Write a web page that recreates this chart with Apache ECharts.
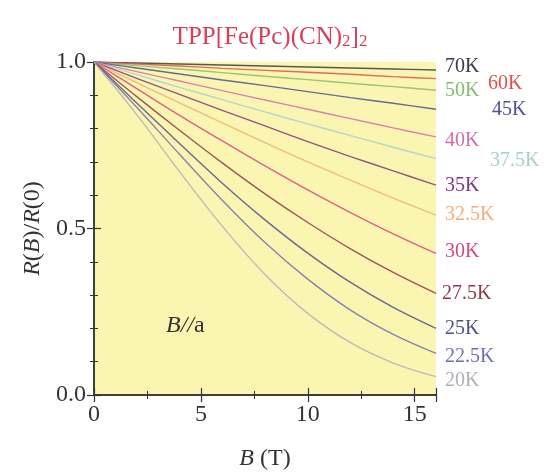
<!DOCTYPE html>
<html>
<head>
<meta charset="utf-8">
<script src="https://cdn.jsdelivr.net/npm/echarts@6/dist/echarts.min.js"></script>
<style>
  html, body { margin: 0; background: #fff; }
  #chart { width: 544px; height: 476px; }
</style>
</head>
<body>
<div id="chart"></div>
<script>
// field B (T)
const fieldB = [0, 2, 4, 6, 8, 10, 12, 14, 16];

// R(B)/R(0)
const r70K = [1, 0.997, 0.994, 0.991, 0.988, 0.985, 0.982, 0.979, 0.976];
const r60K = [1, 0.994, 0.988, 0.981, 0.975, 0.969, 0.963, 0.956, 0.950];
const r50K = [1, 0.989, 0.979, 0.968, 0.957, 0.947, 0.936, 0.926, 0.915];
const r45K = [1, 0.982, 0.964, 0.946, 0.929, 0.911, 0.893, 0.876, 0.858];
const r40K = [1, 0.971, 0.943, 0.914, 0.886, 0.858, 0.830, 0.802, 0.775];
const r37_5K = [1, 0.962, 0.924, 0.887, 0.850, 0.814, 0.779, 0.744, 0.710];
const r35K = [1, 0.951, 0.903, 0.855, 0.808, 0.761, 0.716, 0.673, 0.630];
const r32_5K = [1, 0.938, 0.877, 0.817, 0.758, 0.700, 0.645, 0.591, 0.540];
const r30K = [1, 0.920, 0.840, 0.763, 0.688, 0.616, 0.548, 0.484, 0.425];
const r27_5K = [1, 0.896, 0.795, 0.697, 0.604, 0.518, 0.439, 0.368, 0.305];
const r25K = [1, 0.877, 0.755, 0.636, 0.526, 0.426, 0.338, 0.263, 0.200];
const r22_5K = [1, 0.864, 0.723, 0.585, 0.458, 0.348, 0.255, 0.182, 0.125];
const r20K = [1, 0.842, 0.671, 0.507, 0.362, 0.245, 0.157, 0.096, 0.055];

const tempNames = ['70K', '60K', '50K', '45K', '40K', '37.5K', '35K', '32.5K', '30K', '27.5K', '25K', '22.5K', '20K'];
const curves = [r70K, r60K, r50K, r45K, r40K, r37_5K, r35K, r32_5K, r30K, r27_5K, r25K, r22_5K, r20K];

// styling
const colors = ['#3a3a4a', '#e05050', '#86bd68', '#505090', '#d070a8', '#a6d0d0', '#803880',
  '#f0ae7c', '#d84880', '#903848', '#505088', '#7070b0', '#b0b0b8'];
const labelOffsets = [[9, -3], [52, 5], [9, 0], [56, 0], [9, 4], [54, 2], [9, 1],
  [9, 0], [9, -2], [6, 0], [9, 0], [9, 3], [9, 4]];

const serif = '"Liberation Serif", "Times New Roman", serif';
const ink = '#333333';

const chart = echarts.init(document.getElementById('chart'));

const frameAxis = {
  min: 0,
  axisLine: { show: true, lineStyle: { color: ink, width: 1.5 } },
  axisTick: { show: true, inside: true, length: 7, lineStyle: { color: ink, width: 1.2 } },
  minorTick: { show: true, length: 4, lineStyle: { color: ink, width: 1 } },
  splitLine: { show: false },
};

const options = {
  animation: false,
  title: {
    text: '{a|TPP[Fe(Pc)(CN)}{s|2}{a|]}{s|2}',
    left: 265,
    top: 20,
    textAlign: 'center',
    textStyle: {
      fontWeight: 'normal',
      rich: {
        a: { fontFamily: serif, fontSize: 25, fontWeight: 'normal', color: '#d8405a' },
        s: { fontFamily: serif, fontSize: 17, fontWeight: 'normal', color: '#d8405a', padding: [8, 0, 0, 0] },
      },
    },
  },
  grid: {
    left: 94, right: 108, top: 62, bottom: 79,
    show: true, backgroundColor: '#faf6b2', borderWidth: 0,
  },
  xAxis: [
    {
      ...frameAxis,
      type: 'value', max: 16, interval: 5,
      minorTick: { ...frameAxis.minorTick, splitNumber: 2 },
      axisLabel: {
        fontFamily: serif, fontSize: 24, color: ink, margin: 8,
        showMaxLabel: false,
      },
      name: '{i|B} (T)',
      nameLocation: 'middle',
      nameGap: 52,
      nameTextStyle: {
        fontFamily: serif, fontSize: 24, color: ink,
        rich: { i: { fontFamily: serif, fontSize: 24, fontStyle: 'italic', color: ink } },
      },
    },
    {
      ...frameAxis,
      type: 'value', max: 16, interval: 5, position: 'top',
      minorTick: { ...frameAxis.minorTick, splitNumber: 2 },
      axisLabel: { show: false },
    },
  ],
  yAxis: [
    {
      ...frameAxis,
      type: 'value', max: 1, interval: 0.5,
      minorTick: { ...frameAxis.minorTick, splitNumber: 5 },
      axisLabel: {
        fontFamily: serif, fontSize: 24, color: ink, margin: 8,
        formatter: (v) => v.toFixed(1),
      },
      name: '{i|R}({i|B})/{i|R}(0)',
      nameLocation: 'middle',
      nameGap: 48,
      nameTextStyle: {
        fontFamily: serif, fontSize: 24, color: ink,
        rich: { i: { fontFamily: serif, fontSize: 24, fontStyle: 'italic', color: ink } },
      },
    },
    {
      ...frameAxis,
      type: 'value', max: 1, interval: 0.5, position: 'right',
      minorTick: { ...frameAxis.minorTick, splitNumber: 5 },
      axisLabel: { show: false },
    },
  ],
  graphic: [
    {
      type: 'text',
      left: 166,
      top: 314,
      style: {
        text: '{i|B//}{n|a}',
        rich: {
          i: { fontFamily: serif, fontSize: 24, fontStyle: 'italic', fill: ink },
          n: { fontFamily: serif, fontSize: 24, fill: ink },
        },
      },
    },
  ],
  series: curves.map((vals, i) => ({
    name: tempNames[i],
    type: 'line',
    xAxisIndex: 0,
    yAxisIndex: 0,
    data: fieldB.map((b, j) => [b, vals[j]]),
    smooth: 0.35,
    symbol: 'none',
    lineStyle: { color: colors[i], width: 1.4, opacity: 0.85 },
    endLabel: {
      show: true,
      formatter: '{a}',
      distance: 0,
      offset: labelOffsets[i],
      align: 'left',
      fontFamily: serif,
      fontSize: 20,
      color: colors[i],
    },
    z: 3,
  })),
};

chart.setOption(options);
</script>
</body>
</html>
